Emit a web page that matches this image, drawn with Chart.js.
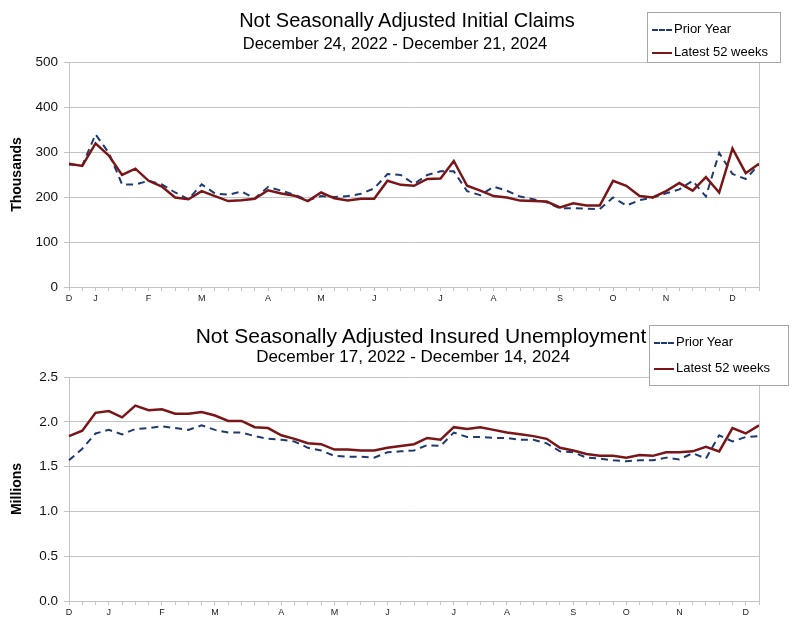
<!DOCTYPE html>
<html>
<head>
<meta charset="utf-8">
<script src="https://cdn.jsdelivr.net/npm/chart.js@4.4.1/dist/chart.umd.min.js"></script>
<style>
body{margin:0;background:#fff;font-family:"Liberation Sans",Arial,sans-serif;}
#wrap{position:relative;width:795px;height:626px;overflow:hidden;}
canvas{position:absolute;left:0;}
.ttl{position:absolute;white-space:nowrap;color:#000;transform:translateX(-50%);}
.legend{position:absolute;background:#fff;border:1px solid #a6a6a6;font-size:13px;color:#000;}
.legend .it{position:absolute;left:4px;white-space:nowrap;}
.sw{display:inline-block;width:20px;height:0;vertical-align:middle;margin-right:2px;}
.sw.prior{border-top:2px dashed #1f3a6e;}
.sw.latest{border-top:2.5px solid #7a1518;}
</style>
</head>
<body>
<div id="wrap">
  <canvas id="c1" width="795" height="310" style="top:0"></canvas>
  <canvas id="c2" width="795" height="316" style="top:310px"></canvas>

  <div class="ttl" style="left:407px;top:9px;font-size:20px">Not Seasonally Adjusted Initial Claims</div>
  <div class="ttl" style="left:395px;top:34px;font-size:16.5px">December 24, 2022 - December 21, 2024</div>
  <div class="legend" style="left:647px;top:12px;width:132px;height:49px">
    <div class="it" style="top:8px"><span class="sw prior"></span>Prior Year</div>
    <div class="it" style="top:31px"><span class="sw latest"></span>Latest 52 weeks</div>
  </div>

  <div class="ttl" style="left:421px;top:324px;font-size:21px">Not Seasonally Adjusted Insured Unemployment</div>
  <div class="ttl" style="left:413px;top:347px;font-size:17px">December 17, 2022 - December 14, 2024</div>
  <div class="legend" style="left:649px;top:325px;width:138px;height:59px">
    <div class="it" style="top:8px"><span class="sw prior"></span>Prior Year</div>
    <div class="it" style="top:34px"><span class="sw latest"></span>Latest 52 weeks</div>
  </div>
</div>
<script>
// initial claims, thousands, 53 weeks
const claimsPrior = [272,270,339,298,228,228,236,228,210,195,228,208,205,212,197,222,214,205,193,202,
  200,202,207,219,251,249,229,249,257,257,213,204,223,214,201,195,188,175,175,174,
  173,199,181,193,199,208,217,236,201,298,251,240,272];
const claimsLatest = [274,269,319,292,249,263,236,223,199,195,213,202,191,193,196,215,208,203,191,210,
  197,192,196,196,236,227,225,240,241,280,225,214,202,199,192,191,190,177,186,181,
  181,236,225,202,199,213,231,214,244,210,308,253,274];

// insured unemployment, millions
const insuredPrior = [1.57,1.70,1.87,1.91,1.86,1.92,1.93,1.95,1.93,1.91,1.96,1.91,1.88,1.88,1.84,1.81,1.80,1.78,1.71,1.68,
  1.62,1.61,1.61,1.60,1.66,1.67,1.68,1.74,1.73,1.88,1.83,1.83,1.82,1.82,1.80,1.80,1.76,1.67,1.66,1.60,
  1.59,1.57,1.56,1.57,1.57,1.60,1.58,1.65,1.59,1.85,1.78,1.83,1.84];
const insuredLatest = [1.84,1.90,2.10,2.12,2.05,2.18,2.13,2.14,2.09,2.09,2.11,2.07,2.01,2.01,1.94,1.93,1.85,1.81,1.76,1.75,
  1.69,1.69,1.68,1.68,1.71,1.73,1.75,1.82,1.80,1.94,1.92,1.94,1.91,1.88,1.86,1.84,1.81,1.71,1.68,1.64,
  1.62,1.62,1.60,1.63,1.62,1.66,1.66,1.67,1.72,1.67,1.93,1.87,1.96];

// month letters and the week they sit on
const monthLetters = ['D','J','F','M','A','M','J','J','A','S','O','N','D'];
const claimsMonthWeek = [0,2,6,10,15,19,23,28,32,37,41,45,50];
const insuredMonthWeek = [0,3,7,11,16,20,24,29,33,38,42,46,51];

const GRID = '#c4c4c4';
const FONT = '"Liberation Sans", Arial, sans-serif';
const RED = '#7a1518', BLUE = '#1f3a6e';

function weekLabels(n, weeks){
  const l = new Array(n).fill('');
  weeks.forEach(function(w,i){ l[w] = monthLetters[i]; });
  return l;
}

const rightEdge = {
  id:'rightEdge',
  afterDraw:function(c){
    const a=c.chartArea, ctx=c.ctx;
    ctx.save(); ctx.strokeStyle=GRID; ctx.lineWidth=1;
    ctx.beginPath(); ctx.moveTo(Math.round(a.right)+0.5,a.top); ctx.lineTo(Math.round(a.right)+0.5,a.bottom+4); ctx.stroke();
    ctx.restore();
  }
};

function makeChart(id, labels, prior, latest, yMax, yStep, yTitle, decimals, padTop, xH){
  return new Chart(document.getElementById(id), {
    type:'line',
    data:{labels:labels, datasets:[
      {label:'Latest 52 weeks', data:latest, borderColor:RED, borderWidth:2.5, pointRadius:0, tension:0, order:0},
      {label:'Prior Year', data:prior, borderColor:BLUE, borderWidth:2, borderDash:[7,5], pointRadius:0, tension:0, order:1}
    ]},
    options:{
      responsive:false, animation:false, devicePixelRatio:1,
      layout:{padding:{top:padTop, right:36, left:0, bottom:0}},
      plugins:{legend:{display:false}, tooltip:{enabled:false}},
      scales:{
        x:{
          offset:false,
          grid:{drawOnChartArea:false, drawTicks:true, tickLength:4, color:GRID},
          border:{color:GRID},
          ticks:{autoSkip:false, maxRotation:0, padding:2, color:'#222', font:{family:FONT, size:9}},
          afterFit:function(s){ s.height = xH; }
        },
        y:{
          min:0, max:yMax,
          grid:{color:GRID, tickLength:5},
          border:{color:GRID},
          ticks:{stepSize:yStep, padding:6, color:'#111', font:{family:FONT, size:13.5},
            callback:function(v){ return decimals ? v.toFixed(decimals) : v; }},
          title:{display:true, text:yTitle, color:'#000', font:{family:FONT, size:14, weight:'bold'}, padding:{top:9,bottom:0}},
          afterFit:function(s){ s.width = 69; }
        }
      }
    },
    plugins:[rightEdge]
  });
}

makeChart('c1', weekLabels(claimsLatest.length, claimsMonthWeek), claimsPrior, claimsLatest, 500, 100, 'Thousands', 0, 62, 23);
makeChart('c2', weekLabels(insuredLatest.length, insuredMonthWeek), insuredPrior, insuredLatest, 2.5, 0.5, 'Millions', 1, 67, 25);
</script>
</body>
</html>
